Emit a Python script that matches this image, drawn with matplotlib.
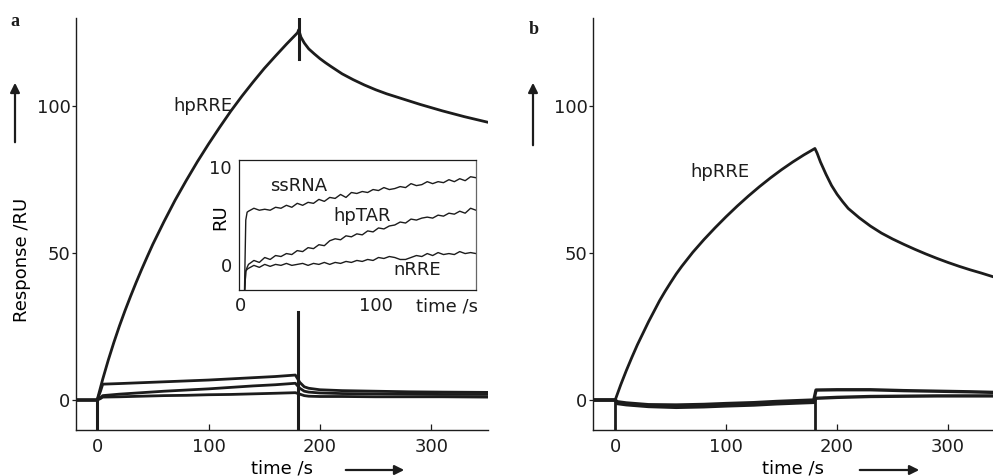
import matplotlib

matplotlib.use("Agg")
import matplotlib.pyplot as plt
from matplotlib.patches import FancyArrowPatch

# ---- panel a, main traces (time /s, response /RU) ----
a_rre_t = [-20, -1, 0, 5, 10, 15, 20, 25, 30, 35, 40, 45, 50, 60, 70, 80, 90,
           100, 110, 120, 130, 140, 150, 160, 170, 180, 181, 183, 186, 190, 195,
           200, 205, 210, 220, 230, 240, 250, 260, 270, 280, 290, 300, 310, 320,
           330, 340, 350]
a_rre_v = [0, 0, 0, 7.1, 13.6, 19.6, 25.2, 30.4, 35.3, 40, 44.5, 48.8, 53, 60.7,
           68, 74.7, 81.1, 87.1, 92.8, 98.3, 103.4, 108.2, 112.8, 117, 121.1, 125,
           126, 123.5, 121.5, 119.5, 117.8, 116.2, 114.8, 113.5, 111, 109, 107.2,
           105.6, 104.2, 103, 101.8, 100.6, 99.5, 98.4, 97.4, 96.4, 95.5, 94.6]

a_low_t = [-20, 0, 3, 5, 20, 40, 60, 80, 100, 120, 140, 160, 178, 182, 186, 190,
           200, 220, 250, 280, 310, 350]
a_ssrna_v = [0, 0, 3, 5.4, 5.6, 5.9, 6.2, 6.5, 6.8, 7.2, 7.6, 8.0, 8.5, 6.0, 4.5,
             4.0, 3.5, 3.2, 3.0, 2.8, 2.7, 2.6]
a_hptar_v = [0, 0, 0.8, 1.5, 2.0, 2.5, 3.0, 3.4, 3.8, 4.3, 4.8, 5.2, 5.7, 4.0, 3.0,
             2.7, 2.4, 2.2, 2.1, 2.0, 1.9, 1.9]
a_nrre_v = [0, 0, 0.5, 1.0, 1.1, 1.3, 1.5, 1.6, 1.8, 1.9, 2.1, 2.3, 2.5, 2.0, 1.5,
            1.3, 1.2, 1.2, 1.1, 1.1, 1.1, 1.0]

# injection artefacts: (time, low, high)
a_spikes = [(0, -10, 0), (180, -10, 30), (181, 116, 130)]

# ---- panel b ----
b_rre_t = [-20, 0, 5, 10, 15, 20, 25, 30, 35, 40, 45, 50, 55, 60, 70, 80, 90, 100,
           110, 120, 130, 140, 150, 160, 170, 180, 182, 185, 190, 195, 200, 205,
           210, 220, 230, 240, 250, 260, 270, 280, 290, 300, 310, 320, 330, 341]
b_rre_v = [0, 0, 5.2, 10, 14.5, 18.8, 22.7, 26.6, 30.2, 33.8, 37, 40, 42.9, 45.5,
           50.3, 54.6, 58.6, 62.4, 66, 69.4, 72.6, 75.6, 78.4, 81, 83.4, 85.6, 84,
           81, 76.8, 73, 70, 67.5, 65.2, 62, 59.2, 56.8, 54.8, 53.0, 51.3, 49.7,
           48.2, 46.8, 45.5, 44.3, 43.2, 41.9]

b_low_t = [-20, 0, 2, 10, 30, 55, 80, 100, 125, 145, 165, 179, 181, 200, 230, 260,
           290, 320, 341]
b_ref1_v = [0, 0, -0.6, -1.0, -1.6, -1.7, -1.5, -1.2, -0.9, -0.5, -0.2, 0, 3.4,
            3.5, 3.5, 3.2, 3.0, 2.8, 2.6]
b_ref2_v = [0, 0, -1.2, -1.6, -2.2, -2.5, -2.3, -2.0, -1.7, -1.3, -1.0, -0.8, 0.6,
            0.9, 1.2, 1.3, 1.4, 1.4, 1.4]
b_spikes = [(0, -10, 0), (180, -10, 0)]

# ---- inset (panel a) ----
in_t = [0, 3, 4, 5, 6, 10, 14, 18, 22, 26, 30, 34, 38, 42, 46, 50, 54, 58, 62, 66,
        70, 74, 78, 82, 86, 90, 94, 98, 102, 106, 110, 114, 118, 122, 126, 130,
        134, 138, 142, 146, 150, 154, 158, 162, 166, 170, 174]
in_ssrna = [-3, -3, 4.6, 5.4, 5.5, 5.8, 5.6, 5.7, 5.6, 5.9, 5.8, 6.1, 5.9, 6.3,
            6.1, 6.4, 6.3, 6.7, 6.5, 6.9, 6.8, 7.2, 6.9, 7.4, 7.3, 7.5, 7.4, 7.7,
            7.6, 7.9, 7.7, 7.8, 8.0, 7.9, 8.3, 8.1, 8.2, 8.5, 8.3, 8.5, 8.4, 8.7,
            8.5, 8.8, 8.6, 9.0, 8.9]
in_hptar = [-3, -3, -0.6, -0.2, 0.1, 0.5, 0.3, 0.8, 0.6, 1.0, 0.9, 1.2, 1.1, 1.5,
            1.4, 1.8, 1.7, 2.1, 2.0, 2.5, 2.7, 2.6, 3.0, 2.9, 3.2, 3.1, 3.5, 3.4,
            3.8, 3.7, 4.0, 4.1, 4.4, 4.3, 4.7, 4.6, 4.8, 4.9, 4.8, 5.1, 5.0, 5.3,
            5.2, 5.5, 5.3, 5.8, 5.6]
in_nrre = [-3, -3, -0.6, -0.4, -0.3, 0.0, -0.2, 0.1, -0.1, 0.1, 0.0, 0.2, 0.0,
           0.1, 0.2, 0.0, 0.2, 0.1, 0.3, 0.1, 0.3, 0.2, 0.4, 0.3, 0.5, 0.4, 0.6,
           0.5, 0.8, 0.7, 0.9, 0.8, 0.6, 0.6, 0.8, 1.0, 0.9, 1.2, 1.0, 1.3, 1.1,
           1.2, 1.1, 1.4, 1.2, 1.3, 1.2]

main_xticks = [0, 100, 200, 300]
main_yticks = [0, 50, 100]
inset_xticks = [0, 100]
inset_yticks = [0, 10]

INK = "#1c1c1c"
W, H = 993, 476

plt.rcParams.update({
    "font.family": "DejaVu Sans",
    "font.size": 13,
    "text.color": INK,
    "axes.edgecolor": INK,
    "xtick.color": INK,
    "ytick.color": INK,
})


def fig_rect(left, top, right, bottom):
    """Pixel box (from top-left) to a figure-fraction rect."""
    return [left / W, 1 - bottom / H, (right - left) / W, (bottom - top) / H]


def style_main(ax, xlim):
    ax.set_xlim(*xlim)
    ax.set_ylim(-10.2, 130)
    for s in ("top", "right"):
        ax.spines[s].set_visible(False)
    for s in ("left", "bottom"):
        ax.spines[s].set_linewidth(1.0)
    ax.set_xticks(main_xticks)
    ax.set_yticks(main_yticks)
    ax.tick_params(axis="x", direction="in", length=4, width=0.9, pad=6, labelsize=13)
    ax.tick_params(axis="y", direction="out", length=3, width=0.9, pad=1, labelsize=13)
    ax.set_xlabel("time /s", fontsize=13, labelpad=2)


fig = plt.figure(figsize=(W / 100, H / 100), dpi=100)
fig.patch.set_facecolor("white")

# panel a
ax_a = fig.add_axes(fig_rect(76, 18, 488, 430))
style_main(ax_a, (-19, 351))
ax_a.plot(a_rre_t, a_rre_v, color=INK, lw=2.0, solid_joinstyle="round")
for vals in (a_ssrna_v, a_hptar_v, a_nrre_v):
    ax_a.plot(a_low_t, vals, color=INK, lw=2.0)
for t, lo, hi in a_spikes:
    ax_a.plot([t, t], [lo, hi], color=INK, lw=2.2)
ax_a.text(95, 100, "hpRRE", ha="center", va="center", fontsize=13)
ax_a.set_ylabel("Response /RU", fontsize=13, va="center")
ax_a.yaxis.set_label_coords(-0.131, 0.413)

# inset
ax_in = fig.add_axes(fig_rect(239, 160, 476, 290))
ax_in.set_xlim(-1, 174)
ax_in.set_ylim(-2.5, 10.7)
for s in ax_in.spines.values():
    s.set_linewidth(0.9)
ax_in.spines["right"].set_color("#666666")
ax_in.set_xticks(inset_xticks)
ax_in.set_yticks(inset_yticks)
ax_in.tick_params(axis="both", length=0, labelsize=13)
ax_in.tick_params(axis="x", pad=5)
ax_in.tick_params(axis="y", pad=5)
for vals in (in_ssrna, in_hptar, in_nrre):
    ax_in.plot(in_t, vals, color=INK, lw=1.0)
ax_in.text(0.253, 0.80, "ssRNA", transform=ax_in.transAxes, ha="center", va="center")
ax_in.text(0.519, 0.569, "hpTAR", transform=ax_in.transAxes, ha="center", va="center")
ax_in.text(0.751, 0.154, "nRRE", transform=ax_in.transAxes, ha="center", va="center")
ax_in.text(0.878, -0.13, "time /s", transform=ax_in.transAxes, ha="center", va="center")
ax_in.set_ylabel("RU", fontsize=13, va="center")
ax_in.yaxis.set_label_coords(-0.08, 0.56)

# panel b
ax_b = fig.add_axes(fig_rect(593, 18, 993, 430))
style_main(ax_b, (-20, 340.5))
ax_b.plot(b_rre_t, b_rre_v, color=INK, lw=2.0, solid_joinstyle="round")
ax_b.plot(b_low_t, b_ref1_v, color=INK, lw=2.4)
ax_b.plot(b_low_t, b_ref2_v, color=INK, lw=2.4)
for t, lo, hi in b_spikes:
    ax_b.plot([t, t], [lo, hi], color=INK, lw=2.0)
ax_b.text(94, 77.5, "hpRRE", ha="center", va="center", fontsize=13)

# panel letters
fig.text(15 / W, 1 - 22 / H, "a", family="Liberation Serif", weight="bold",
         fontsize=13, ha="center", va="center")
fig.text(534 / W, 1 - 30 / H, "b", family="Liberation Serif", weight="bold",
         fontsize=13, ha="center", va="center")


def fig_arrow(x0, y0, x1, y1):
    arr = FancyArrowPatch((x0 / W, 1 - y0 / H), (x1 / W, 1 - y1 / H),
                          transform=fig.transFigure, arrowstyle="-|>",
                          mutation_scale=14, lw=1.6, color=INK)
    fig.add_artist(arr)


fig_arrow(15, 145, 15, 80)
fig_arrow(533, 148, 533, 80)
fig_arrow(343, 470, 407, 470)
fig_arrow(857, 470, 922, 470)

fig.savefig("out.png", dpi=100, facecolor="white")
